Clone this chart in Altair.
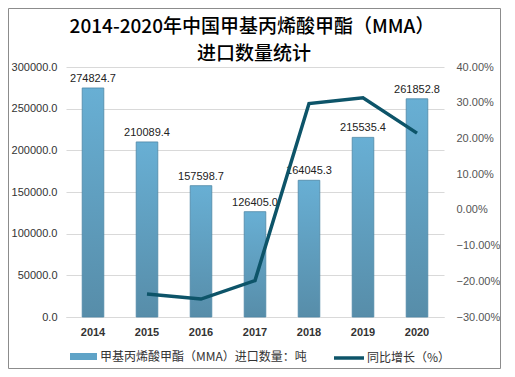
import altair as alt
import pandas as pd

years = ["2014", "2015", "2016", "2017", "2018", "2019", "2020"]
imports = [274824.7, 210089.4, 157598.7, 126405.0, 164045.3, 215535.4, 261852.8]
growth = [None, -0.2356, -0.2498, -0.1979, 0.2978, 0.3139, 0.2149]
bar_name = "甲基丙烯酸甲酯（MMA）进口数量：吨"
line_name = "同比增长（%）"
left_ticks = [0, 50000, 100000, 150000, 200000, 250000, 300000]
right_ticks = [-0.3, -0.2, -0.1, 0.0, 0.1, 0.2, 0.3, 0.4]
title_line1 = "2014-2020年中国甲基丙烯酸甲酯（MMA）"
title_line2 = "进口数量统计"

df = pd.DataFrame({
    "year": years,
    "imports": imports,
    "growth": growth,
    "bar_s": [bar_name] * len(years),
    "line_s": [line_name] * len(years),
})

NUM_FONT = "Liberation Sans"
CJK_FONT = "Noto Sans CJK SC"

x_axis = alt.Axis(
    title=None, labelAngle=0, ticks=False, domainColor="#d9d9d9",
    labelFontWeight="bold", labelFontSize=11, labelPadding=9,
    labelColor="#333333", labelFont=NUM_FONT,
)
x_scale = alt.Scale(paddingInner=0.6, paddingOuter=0.3)
x_enc = alt.X("year:N", sort=years, scale=x_scale, axis=x_axis)

left_scale = alt.Scale(domain=[0, 300000], nice=False, zero=True)
left_axis = alt.Axis(
    title=None, values=left_ticks, format=".1f", domain=False, ticks=False,
    labelPadding=9, gridColor="#d9d9d9", labelFontSize=11,
    labelColor="#333333", labelFont=NUM_FONT,
)
y_left = alt.Y("imports:Q", scale=left_scale, axis=left_axis, title=None)

bars = alt.Chart(df).mark_bar(
    fill=alt.LinearGradient(
        gradient="linear",
        stops=[alt.GradientStop(color="#68afd4", offset=0),
               alt.GradientStop(color="#578da9", offset=1)],
        x1=0, x2=0, y1=0, y2=1,
    ),
    stroke="#4d87a6", strokeWidth=0.8,
).encode(x=x_enc, y=y_left)

labels = alt.Chart(df).mark_text(
    dy=-9, fontSize=11, color="#222222", font=NUM_FONT
).encode(
    x=x_enc,
    y=y_left,
    text=alt.Text("imports:Q", format=".1f"),
)

bar_legend = alt.Chart(df).mark_bar(opacity=0).encode(
    x=x_enc,
    y=y_left,
    color=alt.Color(
        "bar_s:N", scale=alt.Scale(range=["#5fa3c7"]),
        legend=alt.Legend(
            title=None, orient="none", legendX=4, legendY=276, padding=0,
            symbolType="M-1,-0.26H1V0.26H-1Z", symbolSize=729, symbolOpacity=1,
            symbolStrokeWidth=0, labelFont=CJK_FONT, labelFontSize=12,
            labelColor="#333333", labelOffset=3, labelLimit=400,
        ),
    ),
)

left = alt.layer(bars, labels, bar_legend)

line = alt.Chart(df).mark_line(strokeWidth=3.5).encode(
    x=x_enc,
    y=alt.Y(
        "growth:Q", scale=alt.Scale(domain=[-0.3, 0.4], nice=False, zero=False),
        axis=alt.Axis(
            orient="right", title=None, values=right_ticks, format=".2%",
            grid=False, domain=False, ticks=False, labelPadding=12,
            labelFontSize=11, labelColor="#555555", labelFont=NUM_FONT,
        ),
    ),
    color=alt.Color(
        "line_s:N", scale=alt.Scale(range=["#0d5469"]),
        legend=alt.Legend(
            title=None, orient="none", legendX=266, legendY=274, padding=0,
            symbolType="stroke", symbolSize=900, symbolStrokeWidth=3.5,
            labelFont=CJK_FONT, labelFontSize=12, labelColor="#333333",
            labelOffset=1, labelLimit=400,
        ),
    ),
)

single = pd.DataFrame({"a": [0]})

border = alt.Chart(single).mark_rect(
    fill=None, stroke="#8c8c8c", strokeWidth=1
).encode(
    x=alt.value(-57.5), x2=alt.value(434.5),
    y=alt.value(-58.5), y2=alt.value(301.5),
)

title1 = alt.Chart(single).mark_text(
    font=CJK_FONT, fontSize=19, fontWeight=500, color="#000000",
    baseline="middle", align="center",
).encode(x=alt.value(186), y=alt.value(-40), text=alt.value(title_line1))

title2 = alt.Chart(single).mark_text(
    font=CJK_FONT, fontSize=19, fontWeight=500, color="#000000",
    baseline="middle", align="center",
).encode(x=alt.value(188), y=alt.value(-13), text=alt.value(title_line2))

chart = alt.layer(left, line, border, title1, title2).resolve_scale(
    y="independent", color="independent"
).properties(
    width=378,
    height=250,
    autosize=alt.AutoSizeParams(type="none"),
    padding={"left": 58, "top": 59, "right": 57, "bottom": 52},
).configure_view(stroke=None)

chart.save("out.html", embed_options={"renderer": "svg", "actions": False})
